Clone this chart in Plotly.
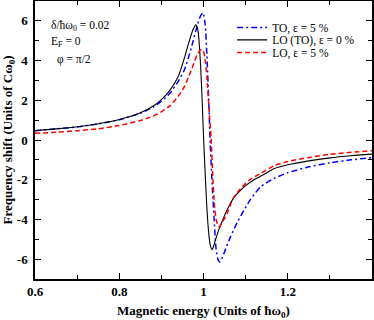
import plotly.graph_objects as go

# LO (TO), eps = 0 %  (black solid)
x_lo0 = [0.6, 0.65, 0.7, 0.75, 0.8, 0.85, 0.88, 0.9, 0.92, 0.94, 0.955, 0.965,
         0.975, 0.982, 0.987, 0.993, 0.997, 1.0, 1.004, 1.008, 1.012, 1.016,
         1.020, 1.024, 1.028, 1.035, 1.045, 1.06, 1.072, 1.088, 1.1, 1.12,
         1.14, 1.167, 1.2, 1.25, 1.3, 1.35, 1.4]
y_lo0 = [0.47, 0.56, 0.67, 0.82, 1.03, 1.37, 1.7, 2.03, 2.5, 3.2, 4.15, 4.9,
         5.55, 5.8, 5.5, 3.8, 1.9, 0.2, -1.7, -3.4, -4.6, -5.3,
         -5.52, -5.35, -5.05, -4.6, -4.05, -3.35, -2.9, -2.53, -2.3, -2.0,
         -1.78, -1.45, -1.25, -1.05, -0.9, -0.79, -0.71]

# TO, eps = 5 %  (blue dash-dot)
x_to5 = [0.6, 0.65, 0.7, 0.75, 0.8, 0.85, 0.88, 0.9, 0.92, 0.94, 0.955, 0.965,
         0.975, 0.985, 0.993, 0.999, 1.004, 1.008, 1.012, 1.016, 1.02, 1.025,
         1.03, 1.035, 1.039, 1.045, 1.055, 1.064, 1.08, 1.096, 1.112, 1.136,
         1.167, 1.2, 1.25, 1.3, 1.35, 1.4]
y_to5 = [0.47, 0.56, 0.66, 0.81, 1.02, 1.35, 1.65, 1.95, 2.35, 2.95, 3.55, 4.2,
         4.95, 5.75, 6.25, 6.4, 5.8, 4.3, 2.2, -0.2, -2.0, -3.9,
         -5.5, -6.05, -6.14, -5.9, -5.35, -4.88, -4.15, -3.54, -2.98, -2.35,
         -1.94, -1.65, -1.35, -1.15, -1.0, -0.89]

# LO, eps = 5 %  (red dashed)
x_lo5 = [0.6, 0.65, 0.7, 0.75, 0.8, 0.85, 0.88, 0.9, 0.92, 0.94, 0.955, 0.965,
         0.975, 0.985, 0.992, 0.998, 1.003, 1.008, 1.013, 1.018, 1.022, 1.026,
         1.03, 1.034, 1.038, 1.043, 1.05, 1.056, 1.07, 1.088, 1.11, 1.136,
         1.167, 1.2, 1.25, 1.3, 1.35, 1.4]
y_lo5 = [0.34, 0.39, 0.47, 0.56, 0.73, 0.98, 1.2, 1.42, 1.72, 2.2, 2.7, 3.2,
         3.75, 4.3, 4.52, 4.55, 4.2, 3.2, 1.6, 0.1, -1.8, -3.3,
         -4.0, -4.3, -4.38, -4.2, -3.95, -3.7, -2.95, -2.45, -2.0, -1.68,
         -1.3, -1.08, -0.88, -0.72, -0.62, -0.54]

x_ticks = [0.6, 0.8, 1.0, 1.2]
x_labels = ["0.6", "0.8", "1", "1.2"]
y_ticks = [-6, -4, -2, 0, 2, 4, 6]
y_labels = ["-6", "-4", "-2", "0", "2", "4", "6"]

serif = "Liberation Serif, Times New Roman, serif"
bold_font = dict(family=serif, size=13, color="black", weight="bold")
legend_font = dict(family=serif, size=11.5, color="black")

fig = go.Figure()

# each trace gets its own legend so the rows can sit as tight as in the original
fig.add_trace(go.Scatter(
    x=x_to5, y=y_to5, mode="lines", name="TO, ε = 5 %", legend="legend", showlegend=True,
    line=dict(color="#0000ff", width=1.5, dash="6px,3px,2px,3px", shape="spline", smoothing=0.6),
))
fig.add_trace(go.Scatter(
    x=x_lo0, y=y_lo0, mode="lines", name="LO (TO), ε = 0 %", legend="legend2", showlegend=True,
    line=dict(color="#000000", width=1.1, shape="spline", smoothing=0.6),
))
fig.add_trace(go.Scatter(
    x=x_lo5, y=y_lo5, mode="lines", name="LO, ε = 5 %", legend="legend3", showlegend=True,
    line=dict(color="#ff0000", width=1.5, dash="5px,3px", shape="spline", smoothing=0.6),
))

axis_common = dict(
    showline=True, linecolor="black", linewidth=1.5, mirror="allticks",
    ticks="inside", ticklen=6, tickwidth=1, tickcolor="black",
    showgrid=False, zeroline=False, automargin=False,
    tickfont=bold_font,
)

fig.update_xaxes(
    range=[0.6, 1.4], tickvals=x_ticks, ticktext=x_labels,
    minor=dict(dtick=0.1, tick0=0.6, ticks="inside", ticklen=4, tickcolor="black"),
    title=dict(text="Magnetic energy (Units of ħω<sub>0</sub>)", font=bold_font, standoff=8),
    **axis_common,
)
fig.update_yaxes(
    range=[-7, 7], tickvals=y_ticks, ticktext=y_labels, ticklabelstandoff=3,
    minor=dict(dtick=1, tick0=0, ticks="inside", ticklen=4, tickcolor="black"),
    title=dict(text="Frequency shift (Units of Cω<sub>0</sub>)", font=bold_font, standoff=6),
    **axis_common,
)

notes = [("δ/ħω<sub>0</sub> = 0.02", 0.042, 0.91),
         ("E<sub>F</sub> = 0", 0.042, 0.853),
         ("φ = π/2", 0.060, 0.789)]
for text, xa, ya in notes:
    fig.add_annotation(text=text, xref="paper", yref="paper", x=xa, y=ya,
                       xanchor="left", yanchor="middle", showarrow=False,
                       font=dict(family=serif, size=11.5, color="black"))

legend_common = dict(xanchor="left", yanchor="middle", bgcolor="rgba(0,0,0,0)",
                     font=legend_font, itemwidth=30, x=0.585, visible=True)
fig.update_layout(
    width=374, height=320,
    margin=dict(l=35, r=2, t=1, b=41),
    plot_bgcolor="white", paper_bgcolor="white",
    showlegend=True,
    legend=dict(y=0.905, **legend_common),
    legend2=dict(y=0.860, **legend_common),
    legend3=dict(y=0.815, **legend_common),
)

fig.write_html("out.html", config={"displayModeBar": False},
               post_script="document.body.style.margin='0';")
